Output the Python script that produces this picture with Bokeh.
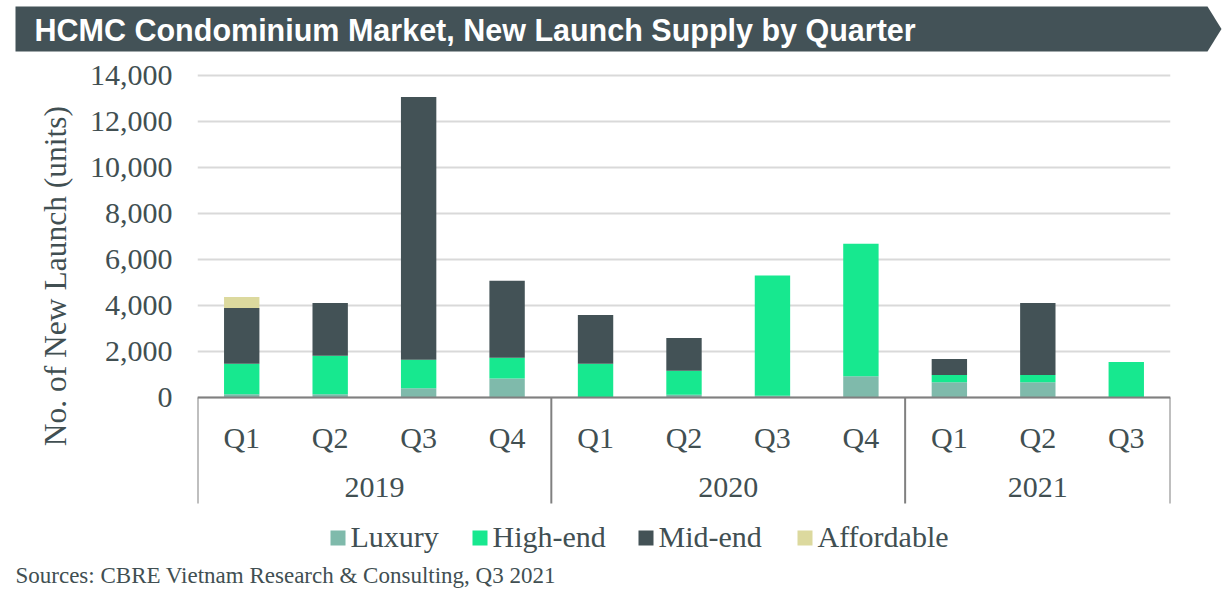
from bokeh.plotting import figure
from bokeh.layouts import column, row
from bokeh.models import ColumnDataSource, FixedTicker, NumeralTickFormatter, Range1d
from bokeh.core.properties import value
from bokeh.embed import file_html
from bokeh.resources import INLINE

# ---- data -------------------------------------------------------------
quarters = ["Q1", "Q2", "Q3", "Q4", "Q1", "Q2", "Q3", "Q4", "Q1", "Q2", "Q3"]
years = ["2019", "2020", "2021"]
quarters_per_year = [4, 4, 3]

segments = ["Luxury", "High-end", "Mid-end", "Affordable"]
luxury = [140, 140, 400, 830, 0, 120, 80, 920, 660, 660, 0]
high_end = [1330, 1680, 1240, 900, 1470, 1045, 5220, 5770, 320, 320, 1545]
mid_end = [2420, 2290, 11430, 3350, 2120, 1425, 0, 0, 695, 3130, 0]
affordable = [480, 0, 0, 0, 0, 0, 0, 0, 0, 0, 0]

y_ticks = [0, 2000, 4000, 6000, 8000, 10000, 12000, 14000]

title_text = "HCMC Condominium Market, New Launch Supply by Quarter"
y_label = "No. of  New Launch (units)"
source_text = "Sources: CBRE Vietnam Research & Consulting, Q3 2021"

# ---- styling ----------------------------------------------------------
COLORS = ["#7FBAAB", "#17E88F", "#435256", "#DCD99E"]
TEXT = "#414f52"
BANNER = "#435257"
AXIS_GREY = "#808080"
GRID_GREY = "#d9d9d9"
SERIF = value("Liberation Serif")
SANS = value("Liberation Sans")
FS = "30px"

W, H = 1228, 603
BANNER_H = 55
MAIN_H = 460
FOOT_H = H - BANNER_H - MAIN_H
LABEL_W = 75
FRAME_LEFT, FRAME_RIGHT = 197, 1170


def blank(width, height):
    f = figure(width=width, height=height, output_backend="svg",
               toolbar_location=None, x_axis_location=None,
               y_axis_location=None, min_border=0,
               x_range=Range1d(0, width), y_range=Range1d(height, 0))
    f.grid.visible = False
    f.outline_line_color = None
    f.background_fill_color = "white"
    f.border_fill_color = "white"
    return f


# ---- title banner -----------------------------------------------------
banner = blank(W, BANNER_H)
banner.patch([15, 1207, 1221, 1207, 15], [6, 6, 28.5, 51, 51],
             fill_color=BANNER, line_color=None)
banner.text(x=[34], y=[29], text=[title_text], text_color="white",
            text_font=SANS, text_font_style="bold", text_font_size="30.5px",
            text_baseline="middle", text_align="left")

# ---- y axis title -----------------------------------------------------
ylab = blank(LABEL_W, MAIN_H)
ylab.text(x=[55], y=[214], text=[y_label], angle=1.5707963,
          text_color=TEXT, text_font=SERIF, text_font_size="31.5px",
          text_baseline="middle", text_align="center")

# ---- main chart -------------------------------------------------------
n = len(quarters)
xs = [i + 0.5 for i in range(n)]
src = ColumnDataSource(dict(x=xs, Luxury=luxury, **{"High-end": high_end},
                            **{"Mid-end": mid_end}, Affordable=affordable))

px_per_unit = 322 / 14000.0
y_lo = -(515 - 397) / px_per_unit
y_hi = 14000 + (75 - 60) / px_per_unit

p = figure(width=W - LABEL_W, height=MAIN_H, output_backend="svg",
           toolbar_location=None, x_range=Range1d(0, n),
           y_range=Range1d(y_lo, y_hi), x_axis_location=None,
           min_border_left=FRAME_LEFT - LABEL_W,
           min_border_right=W - FRAME_RIGHT,
           min_border_top=5, min_border_bottom=0)
p.outline_line_color = None
p.xgrid.visible = False
p.ygrid.grid_line_color = GRID_GREY
p.ygrid.grid_line_width = 1.8
p.yaxis.ticker = FixedTicker(ticks=y_ticks)
p.yaxis.formatter = NumeralTickFormatter(format="0,0")
p.yaxis.axis_line_color = None
p.yaxis.major_tick_line_color = None
p.yaxis.minor_tick_line_color = None
p.yaxis.major_tick_out = 0
p.yaxis.major_label_standoff = 25
p.yaxis.major_label_text_font = "Liberation Serif"
p.yaxis.major_label_text_font_size = FS
p.yaxis.major_label_text_color = TEXT

p.vbar_stack(segments, x="x", width=0.4, source=src, color=COLORS,
             line_color=None)

# category axis: baseline, group separators, quarter and year labels
p.segment(x0=[0], y0=[0], x1=[n], y1=[0], line_color=AXIS_GREY, line_width=2)
sep_bottom = -(503 - 397) / px_per_unit
bounds = [0]
for k in quarters_per_year:
    bounds.append(bounds[-1] + k)
p.segment(x0=bounds, y0=[0] * len(bounds), x1=bounds,
          y1=[sep_bottom] * len(bounds), line_color=AXIS_GREY, line_width=2)

q_y = -(437 - 397) / px_per_unit
p.text(x=xs, y=[q_y] * n, text=quarters, text_color=TEXT, text_font=SERIF,
       text_font_size=FS, text_align="center", text_baseline="middle")

year_x = [(bounds[i] + bounds[i + 1]) / 2 for i in range(len(years))]
yr_y = -(487 - 397) / px_per_unit
p.text(x=year_x, y=[yr_y] * len(years), text=years, text_color=TEXT,
       text_font=SERIF, text_font_size=FS, text_align="center",
       text_baseline="middle")

# ---- legend and source note ------------------------------------------
foot = blank(W, FOOT_H)
legend_x = [330, 472, 638, 797]
foot.rect(x=[x + 7.5 for x in legend_x], y=[22.5] * 4, width=15, height=15,
          fill_color=COLORS, line_color=None)
foot.text(x=[x + 20 for x in legend_x], y=[21] * 4, text=segments,
          text_color=TEXT, text_font=SERIF, text_font_size=FS,
          text_align="left", text_baseline="middle")
foot.text(x=[15], y=[60], text=[source_text], text_color=TEXT,
          text_font=SERIF, text_font_size="23px", text_align="left",
          text_baseline="middle")

layout = column(banner, row(ylab, p), foot)
open("out.html", "w").write(file_html(layout, INLINE))
